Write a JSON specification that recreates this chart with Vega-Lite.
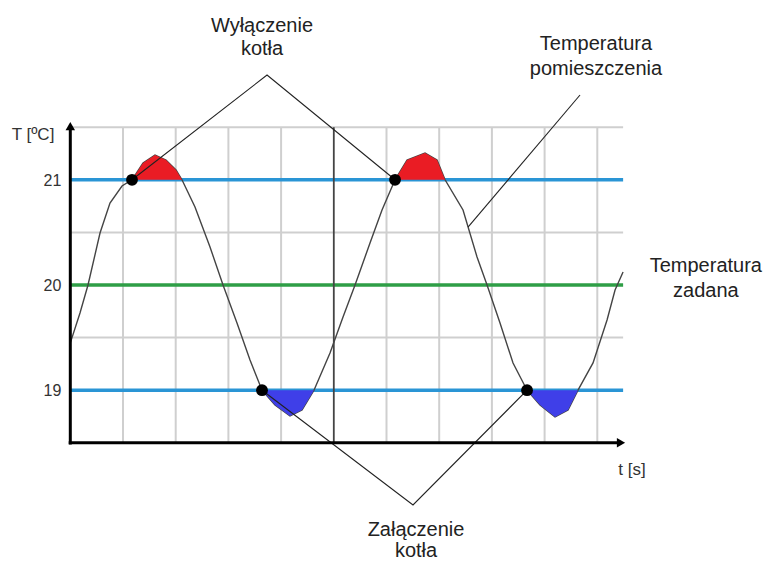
{
  "$schema": "https://vega.github.io/schema/vega-lite/v6.json",
  "width": 774,
  "height": 561,
  "autosize": "none",
  "padding": 0,
  "background": "white",
  "config": {"view": {"stroke": null}, "text": {"font": "Liberation Sans", "fill": "#222222"}},
  "datasets": {
    "curve": [
      {"x": 0, "t": 19.45, "zone": "none"},
      {"x": 0.184, "t": 19.734, "zone": "none"},
      {"x": 0.336, "t": 20.0, "zone": "none"},
      {"x": 0.564, "t": 20.494, "zone": "none"},
      {"x": 0.753, "t": 20.779, "zone": "none"},
      {"x": 0.981, "t": 20.941, "zone": "none"},
      {"x": 1.171, "t": 21.0, "zone": "hot1"},
      {"x": 1.38, "t": 21.16, "zone": "hot1"},
      {"x": 1.607, "t": 21.236, "zone": "hot1"},
      {"x": 1.816, "t": 21.188, "zone": "hot1"},
      {"x": 2.006, "t": 21.093, "zone": "hot1"},
      {"x": 2.119, "t": 21.0, "zone": "hot1"},
      {"x": 2.366, "t": 20.741, "zone": "none"},
      {"x": 2.651, "t": 20.361, "zone": "none"},
      {"x": 2.898, "t": 20.0, "zone": "none"},
      {"x": 3.163, "t": 19.639, "zone": "none"},
      {"x": 3.41, "t": 19.287, "zone": "none"},
      {"x": 3.638, "t": 19.0, "zone": "cold1"},
      {"x": 3.884, "t": 18.859, "zone": "cold1"},
      {"x": 4.169, "t": 18.755, "zone": "cold1"},
      {"x": 4.397, "t": 18.812, "zone": "cold1"},
      {"x": 4.624, "t": 19.0, "zone": "cold1"},
      {"x": 4.928, "t": 19.354, "zone": "none"},
      {"x": 5.175, "t": 19.696, "zone": "none"},
      {"x": 5.403, "t": 20.0, "zone": "none"},
      {"x": 5.687, "t": 20.399, "zone": "none"},
      {"x": 5.915, "t": 20.713, "zone": "none"},
      {"x": 6.162, "t": 21.0, "zone": "hot2"},
      {"x": 6.39, "t": 21.188, "zone": "hot2"},
      {"x": 6.731, "t": 21.255, "zone": "hot2"},
      {"x": 6.959, "t": 21.188, "zone": "hot2"},
      {"x": 7.111, "t": 21.0, "zone": "hot2"},
      {"x": 7.452, "t": 20.713, "zone": "none"},
      {"x": 7.718, "t": 20.266, "zone": "none"},
      {"x": 7.908, "t": 20.0, "zone": "none"},
      {"x": 8.154, "t": 19.639, "zone": "none"},
      {"x": 8.401, "t": 19.259, "zone": "none"},
      {"x": 8.667, "t": 19.0, "zone": "cold2"},
      {"x": 8.913, "t": 18.859, "zone": "cold2"},
      {"x": 9.198, "t": 18.745, "zone": "cold2"},
      {"x": 9.445, "t": 18.812, "zone": "cold2"},
      {"x": 9.634, "t": 19.0, "zone": "cold2"},
      {"x": 9.919, "t": 19.259, "zone": "none"},
      {"x": 10.185, "t": 19.667, "zone": "none"},
      {"x": 10.337, "t": 19.952, "zone": "none"},
      {"x": 10.489, "t": 20.124, "zone": "none"}
    ],
    "hgrid": [{"t": 21.5}, {"t": 20.5}, {"t": 19.5}],
    "vgrid": [{"x": 1}, {"x": 2}, {"x": 3}, {"x": 4}, {"x": 6}, {"x": 7}, {"x": 8}, {"x": 9}, {"x": 10}],
    "levels": [{"t": 21, "kind": "limit"}, {"t": 20, "kind": "setpoint"}, {"t": 19, "kind": "limit"}],
    "dots": [{"x": 1.171, "t": 21}, {"x": 6.162, "t": 21}, {"x": 3.638, "t": 19}, {"x": 8.667, "t": 19}],
    "leaders": [
      {"line": "off", "o": 1, "x": 1.171, "t": 21.0},
      {"line": "off", "o": 2, "x": 3.733, "t": 21.996},
      {"line": "off", "o": 3, "x": 6.162, "t": 21.0},
      {"line": "on", "o": 1, "x": 3.638, "t": 19.0},
      {"line": "on", "o": 2, "x": 6.503, "t": 17.909},
      {"line": "on", "o": 3, "x": 8.667, "t": 19.0},
      {"line": "room", "o": 1, "x": 9.672, "t": 21.806},
      {"line": "room", "o": 2, "x": 7.547, "t": 20.551}
    ],
    "labels": [
      {"x": 3.638, "t": 22.405, "text": "Wyłączenie"},
      {"x": 3.638, "t": 22.186, "text": "kotła"},
      {"x": 9.975, "t": 22.234, "text": "Temperatura"},
      {"x": 9.975, "t": 21.996, "text": "pomieszczenia"},
      {"x": 12.06, "t": 20.124, "text": "Temperatura"},
      {"x": 12.06, "t": 19.886, "text": "zadana"},
      {"x": 6.56, "t": 17.614, "text": "Załączenie"},
      {"x": 6.56, "t": 17.41, "text": "kotła"}
    ],
    "axisTitles": [
      {"x": -0.708, "t": 21.378, "text": "T [ºC]"},
      {"x": 10.659, "t": 18.194, "text": "t [s]"}
    ],
    "ticks": [
      {"x": -0.17, "t": 20.941, "text": "21"},
      {"x": -0.17, "t": 19.943, "text": "20"},
      {"x": -0.17, "t": 18.945, "text": "19"}
    ]
  },
  "encoding": {
    "x": {"type": "quantitative", "scale": {"domain": [-1.334, 13.353], "nice": false, "zero": false}, "axis": null},
    "y": {"type": "quantitative", "scale": {"domain": [17.3764, 22.7091], "nice": false, "zero": false}, "axis": null}
  },
  "layer": [
    {
      "data": {"name": "hgrid"},
      "mark": {"type": "rule", "color": "#cfcfcf", "strokeWidth": 2},
      "encoding": {"y": {"field": "t", "type": "quantitative"}, "x": {"datum": 0}, "x2": {"datum": 10.49}}
    },
    {
      "data": {"name": "vgrid"},
      "mark": {"type": "rule", "color": "#cfcfcf", "strokeWidth": 2},
      "encoding": {"x": {"field": "x", "type": "quantitative"}, "y": {"datum": 18.5}, "y2": {"datum": 21.5}}
    },
    {
      "data": {"name": "levels"},
      "mark": {"type": "rule", "strokeWidth": 3.5},
      "encoding": {
        "y": {"field": "t", "type": "quantitative"},
        "x": {"datum": 0},
        "x2": {"datum": 10.49},
        "color": {"field": "kind", "type": "nominal", "scale": {"domain": ["limit", "setpoint"], "range": ["#2a95d5", "#2e9e46"]}, "legend": null}
      }
    },
    {
      "data": {"values": [{"x": 5}]},
      "mark": {"type": "rule", "color": "#444444", "strokeWidth": 1.8},
      "encoding": {"x": {"field": "x", "type": "quantitative"}, "y": {"datum": 18.5}, "y2": {"datum": 21.5}}
    },
    {
      "data": {"name": "curve"},
      "mark": {"type": "line", "color": "#444444", "strokeWidth": 1.4, "interpolate": "linear"},
      "encoding": {"x": {"field": "x", "type": "quantitative"}, "y": {"field": "t", "type": "quantitative"}}
    },
    {
      "data": {"name": "curve"},
      "transform": [{"filter": {"field": "zone", "oneOf": ["hot1", "hot2"]}}],
      "mark": {"type": "area", "color": "#ea1c24", "opacity": 1},
      "encoding": {"x": {"field": "x", "type": "quantitative"}, "y": {"field": "t", "type": "quantitative"}, "y2": {"datum": 21}, "detail": {"field": "zone"}}
    },
    {
      "data": {"name": "curve"},
      "transform": [{"filter": {"field": "zone", "oneOf": ["cold1", "cold2"]}}],
      "mark": {"type": "area", "color": "#3f3fe8", "opacity": 1},
      "encoding": {"x": {"field": "x", "type": "quantitative"}, "y": {"field": "t", "type": "quantitative"}, "y2": {"datum": 19}, "detail": {"field": "zone"}}
    },
    {
      "data": {"name": "leaders"},
      "mark": {"type": "line", "color": "#222222", "strokeWidth": 1.1},
      "encoding": {"x": {"field": "x", "type": "quantitative"}, "y": {"field": "t", "type": "quantitative"}, "detail": {"field": "line"}, "order": {"field": "o"}}
    },
    {
      "data": {"name": "dots"},
      "mark": {"type": "point", "filled": true, "shape": "circle", "color": "#000000", "size": 140, "opacity": 1},
      "encoding": {"x": {"field": "x", "type": "quantitative"}, "y": {"field": "t", "type": "quantitative"}}
    },
    {
      "data": {"values": [{"x": 0}]},
      "mark": {"type": "rule", "color": "#000000", "strokeWidth": 3},
      "encoding": {"x": {"field": "x", "type": "quantitative"}, "y": {"datum": 18.485}, "y2": {"datum": 21.5}}
    },
    {
      "data": {"values": [{"t": 18.5}]},
      "mark": {"type": "rule", "color": "#000000", "strokeWidth": 3},
      "encoding": {"y": {"field": "t", "type": "quantitative"}, "x": {"datum": -0.03}, "x2": {"datum": 10.4}}
    },
    {
      "data": {"values": [{"x": 0, "t": 21.51}]},
      "mark": {"type": "point", "filled": true, "shape": "triangle-up", "color": "#000000", "size": 90, "opacity": 1},
      "encoding": {"x": {"field": "x", "type": "quantitative"}, "y": {"field": "t", "type": "quantitative"}}
    },
    {
      "data": {"values": [{"x": 10.45, "t": 18.5}]},
      "mark": {"type": "point", "filled": true, "shape": "triangle-right", "color": "#000000", "size": 90, "opacity": 1},
      "encoding": {"x": {"field": "x", "type": "quantitative"}, "y": {"field": "t", "type": "quantitative"}}
    },
    {
      "data": {"name": "labels"},
      "mark": {"type": "text", "fontSize": 20, "align": "center", "baseline": "alphabetic"},
      "encoding": {"x": {"field": "x", "type": "quantitative"}, "y": {"field": "t", "type": "quantitative"}, "text": {"field": "text"}}
    },
    {
      "data": {"name": "axisTitles"},
      "mark": {"type": "text", "fontSize": 17, "align": "center", "baseline": "alphabetic", "fill": "#333333"},
      "encoding": {"x": {"field": "x", "type": "quantitative"}, "y": {"field": "t", "type": "quantitative"}, "text": {"field": "text"}}
    },
    {
      "data": {"name": "ticks"},
      "mark": {"type": "text", "fontSize": 16, "align": "right", "baseline": "alphabetic", "fill": "#333333"},
      "encoding": {"x": {"field": "x", "type": "quantitative"}, "y": {"field": "t", "type": "quantitative"}, "text": {"field": "text"}}
    }
  ]
}
